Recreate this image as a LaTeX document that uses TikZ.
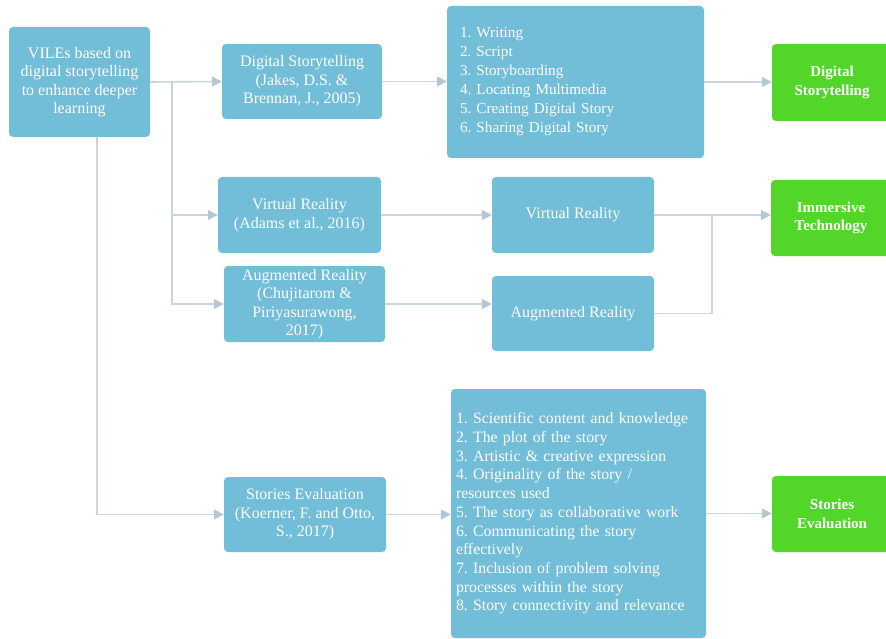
\documentclass[tikz,border=0pt]{standalone}
\usepackage{fontspec}
\setmainfont{Liberation Serif}
\usetikzlibrary{arrows.meta}
\frenchspacing

\definecolor{boxblue}{HTML}{72BDD8}
\definecolor{boxgreen}{HTML}{52D62A}
\definecolor{linkgrey}{HTML}{C9D6DD}
\definecolor{tipgrey}{HTML}{B5C7D1}

\tikzset{
  base/.style={rounded corners=4pt, inner sep=0pt, text=white,
    font=\fontsize{16}{18.5}\selectfont, align=center},
  bluebox/.style={base, fill=boxblue},
  greenbox/.style={base, fill=boxgreen, font=\bfseries\fontsize{15}{18.5}\selectfont},
  listbox/.style={bluebox, align=left},
  sz/.style 2 args={minimum width=#1pt, minimum height=#2pt},
  link/.style={draw=linkgrey, line width=1.6pt},
  arr/.style={link, -{Triangle[length=10pt,width=10pt,color=tipgrey]}},
}

\begin{document}
\begin{tikzpicture}[x=1pt, y=-1pt]
\useasboundingbox (0,0) rectangle (886,639);
\clip (0,0) rectangle (886,639);

% left column
\node[bluebox, sz={141}{110}] (vile) at (79.5,82)
  {VILEs based on\\digital storytelling\\to enhance deeper\\learning};

% reference boxes
\node[bluebox, sz={160}{75}] (dsref) at (302,81.5)
  {Digital Storytelling\\(Jakes, D.S. \&\\Brennan, J., 2005)};
\node[bluebox, sz={163}{76}] (vrref) at (299.5,215)
  {Virtual Reality\\(Adams et al., 2016)};
\node[bluebox, sz={161}{76}] (arref) at (304.5,304)
  {Augmented Reality\\(Chujitarom \&\\Piriyasurawong,\\2017)};
\node[bluebox, sz={162}{75}] (seref) at (305,514.5)
  {Stories Evaluation\\(Koerner, F. and Otto,\\S., 2017)};

% middle column
\node[listbox, sz={257}{152}, text width=231pt, inner xsep=13pt,
      font=\fontsize{15.2}{19}\selectfont] (steps) at (575.5,82)
  {1. Writing\\2. Script\\3. Storyboarding\\4. Locating Multimedia\\5. Creating Digital Story\\6. Sharing Digital Story};
\node[bluebox, sz={162}{76}] (vr) at (573,215) {Virtual Reality};
\node[bluebox, sz={162}{75}] (ar) at (573,313.5) {Augmented Reality};
\node[listbox, sz={255}{249}, text width=245pt, inner xsep=5pt,
      font=\fontsize{15.8}{18.7}\selectfont] (crit) at (578.5,513.5)
  {1. Scientific content and knowledge\\2. The plot of the story\\3. Artistic \& creative expression\\4. Originality of the story /\\resources used\\5. The story as collaborative work\\6. Communicating the story\\effectively\\7. Inclusion of problem solving\\processes within the story\\8. Story connectivity and relevance};

% outcomes
\node[greenbox, sz={120}{77}] (gds) at (832,82.5) {Digital\\Storytelling};
\node[greenbox, sz={120}{76}] (git) at (831,218) {Immersive\\Technology};
\node[greenbox, sz={120}{76}] (gse) at (832,514) {Stories\\Evaluation};

% connectors
\coordinate (trunk) at (172,82);
\coordinate (merge) at (712,215);
\draw[arr] (vile.east) -- (dsref.west);
\draw[arr] (trunk) |- (vrref.west);
\draw[arr] (trunk) |- (arref.west);
\draw[arr] ([xshift=17.5pt]vile.south) |- (seref.west);
\draw[arr] (dsref.east) -- (steps.west |- dsref.east);
\draw[arr] (steps.east) -- (gds.west |- steps.east);
\draw[arr] (vrref.east) -- (vr.west);
\draw[arr] (arref.east) -- (arref.east -| ar.west);
\draw[arr] (vr.east) -- (vr.east -| git.west);
\draw[link] (ar.east) -| (merge);
\draw[arr] (seref.east) -- (seref.east -| crit.west);
\draw[arr] (crit.east) -- (gse.west |- crit.east);
\end{tikzpicture}
\end{document}
